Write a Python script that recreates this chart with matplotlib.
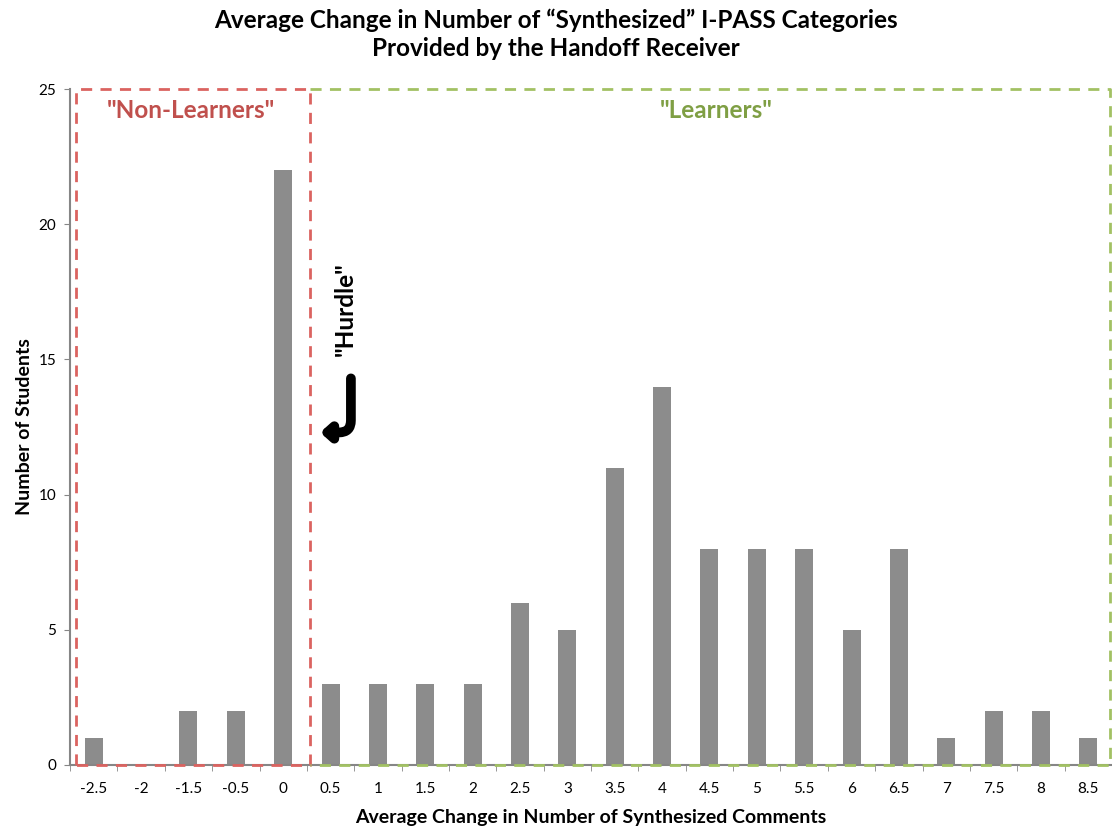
import numpy as np
import matplotlib.pyplot as plt

categories = ["-2.5", "-2", "-1.5", "-0.5", "0", "0.5", "1", "1.5", "2", "2.5", "3",
              "3.5", "4", "4.5", "5", "5.5", "6", "6.5", "7", "7.5", "8", "8.5"]
students = [1, 0, 2, 2, 22, 3, 3, 3, 3, 6, 5, 11, 14, 8, 8, 8, 5, 8, 1, 2, 2, 1]
yticks = [0, 5, 10, 15, 20, 25]

plt.rcParams['font.family'] = ['Lato', 'DejaVu Sans']

fig = plt.figure(figsize=(11.12, 8.26), dpi=100)
ax = fig.add_axes([0.063, 0.074, 0.937, 0.818])

x = np.arange(len(categories))
ax.bar(x, students, width=0.38, color='#8c8c8c', zorder=2)

ax.set_xlim(-0.5, len(categories) - 0.5)
ax.set_ylim(0, 25)
ax.set_yticks(yticks)
ax.set_xticks(x)
ax.set_xticklabels(categories)
ax.set_xticks(np.arange(-0.5, len(categories), 1), minor=True)
ax.tick_params(axis='x', which='major', length=0, pad=12, labelsize=11)
ax.tick_params(axis='x', which='minor', length=4, color='#868686')
ax.tick_params(axis='y', length=4, color='#868686', labelsize=11, pad=6)

for s in ['top', 'right']:
    ax.spines[s].set_visible(False)
for s in ['left', 'bottom']:
    ax.spines[s].set_color('#868686')
    ax.spines[s].set_linewidth(1.5)

# dashed group boxes
red = '#db6360'
green = '#a2c163'
split = 4.56
ax.plot([-0.37, -0.37, split, split, -0.37], [0, 25, 25, 0, 0], ls=(0, (4, 3)),
        color=red, lw=2, clip_on=False, zorder=3)
ax.plot([split, 21.45, 21.45, split], [25, 25, 0, 0], ls=(0, (4, 3)),
        color=green, lw=2, clip_on=False, zorder=3)

ax.text(2.05, 24.2, '"Non-Learners"', color='#c0504d', fontsize=17.5, fontweight='bold',
        ha='center', va='center')
ax.text(13.15, 24.2, '"Learners"', color='#7f9f44', fontsize=17.5, fontweight='bold',
        ha='center', va='center')

ax.text(5.3, 16.85, '"Hurdle"', rotation=90, fontsize=17.5, fontweight='bold',
        ha='center', va='center')
ax.annotate('', xy=(4.78, 12.3), xytext=(5.43, 14.3),
            arrowprops=dict(arrowstyle='-|>,head_length=0.5,head_width=0.45',
                            connectionstyle='angle,angleA=90,angleB=0,rad=12',
                            lw=7, color='black', shrinkA=0, shrinkB=0))

ax.set_xlabel('Average Change in Number of Synthesized Comments', fontsize=14,
              fontweight='bold', labelpad=10)
ax.set_ylabel('Number of Students', fontsize=14, fontweight='bold', labelpad=4)
fig.suptitle('Average Change in Number of \u201cSynthesized\u201d I-PASS Categories\n'
             'Provided by the Handoff Receiver', fontsize=17.5, fontweight='bold',
             y=0.99, linespacing=1.3)

fig.savefig('out.png', dpi=100)
